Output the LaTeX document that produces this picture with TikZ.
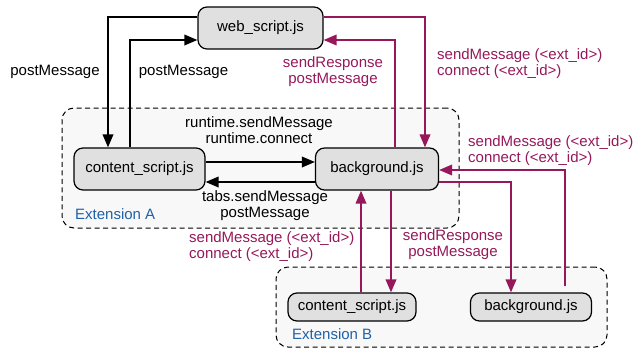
\documentclass[tikz,border=0pt]{standalone}
\usepackage{fontspec}
\setmainfont{Liberation Sans}
\usepackage{tikz}
\usetikzlibrary{arrows.meta}
\usetikzlibrary{positioning}
\usetikzlibrary{calc}

\definecolor{msgred}{HTML}{96185A}
\definecolor{extblue}{HTML}{1F62A8}
\definecolor{boxgray}{HTML}{E0E0E0}
\definecolor{extgray}{HTML}{F8F8F8}

\begin{document}
\begin{tikzpicture}[x=1pt, y=-1pt, on grid, >={Triangle[length=13pt,width=10.5pt]},
    font=\fontsize{15}{16}\selectfont,
    jsbox/.style={draw, line width=1.2pt, rounded corners=9pt, fill=boxgray, inner sep=0pt},
    bigbox/.style={jsbox, minimum height=42pt},
    smallbox/.style={jsbox, minimum height=28pt},
    extbox/.style={draw, dash pattern=on 5pt off 3.5pt, line width=1pt, rounded corners=12pt, fill=extgray, inner sep=0pt},
    blackmsg/.style={->, line width=2pt},
    redmsg/.style={->, line width=2pt, draw=msgred, color=msgred},
    redlabel/.style={text=msgred, align=left, inner sep=0pt},
    blacklabel/.style={align=center, inner sep=0pt}]
  \useasboundingbox (0,0) rectangle (634,351);

  % extension containers
  \node[extbox, minimum width=397pt, minimum height=120pt] (extA) at (260.5,168) {};
  \node[extbox, minimum width=331pt, minimum height=80pt]  (extB) at (441.5,307) {};
  \node[text=extblue, anchor=west, inner sep=0pt] (labA) at (75,214) {Extension A};
  \node[text=extblue, anchor=west, inner sep=0pt] (labB) at (292,334) {Extension B};

  % scripts
  \node[bigbox, minimum width=125pt] (web) at (260.5,28) {web\_script.js};
  \node[bigbox, minimum width=131pt] (contA) [below left=141pt and 121pt of web] {content\_script.js};
  \node[bigbox, minimum width=123pt] (bgA) [right=237.5pt of contA] {background.js};
  \node[smallbox, minimum width=128pt] (contB) [below left=138pt and 25pt of bgA] {content\_script.js};
  \node[smallbox, minimum width=121pt] (bgB) [right=179pt of contB] {background.js};

  % page <-> extension A
  \draw[blackmsg] ([yshift=11pt]web.west) -| ([xshift=-31.5pt]contA.north);
  \draw[blackmsg] ([xshift=-9.5pt]contA.north) |- ([yshift=-12pt]web.west);
  \draw[blackmsg] ([yshift=7pt]contA.east) -- ([yshift=7pt]bgA.west);
  \draw[blackmsg] ([yshift=-13pt]bgA.west) -- ([yshift=-13pt]contA.east);
  \draw[redmsg] ([yshift=11pt]web.east) -| ([xshift=48pt]bgA.north);
  \draw[redmsg] ([xshift=18pt]bgA.north) |- ([yshift=-12pt]web.east);

  % extension A <-> extension B
  \draw[redmsg, shorten <=6pt] ([xshift=34pt]bgB.north) |- ([yshift=-1pt]bgA.east);
  \draw[redmsg] ([yshift=-13pt]bgA.east) -| ([xshift=-20pt]bgB.north);
  \draw[redmsg] ([xshift=14pt]bgA.south) -- ([xshift=14pt]bgA.south |- contB.north);
  \draw[redmsg] ([xshift=9pt]contB.north) -- ([xshift=9pt]contB.north |- bgA.south);

  % labels
  \node[blacklabel] (pm1) at (55,72) {postMessage};
  \node[blacklabel] (pm2) at (183.5,72) {postMessage};
  \node[blacklabel] (rt) at (259,130) {runtime.sendMessage\\runtime.connect};
  \node[blacklabel] (tabs) at (265,206) {tabs.sendMessage\\postMessage};
  \node[redlabel, align=center] (resp1) at (333,72) {sendResponse\\postMessage};
  \node[redlabel, anchor=west] (ext1) at (437,64) {sendMessage (<ext\_id>)\\connect (<ext\_id>)};
  \node[redlabel, anchor=west] (ext2) at (468,151) {sendMessage (<ext\_id>)\\connect (<ext\_id>)};
  \node[redlabel, anchor=west] (ext3) at (189,247) {sendMessage (<ext\_id>)\\connect (<ext\_id>)};
  \node[redlabel, align=center] (resp2) at (453,245) {sendResponse\\postMessage};
\end{tikzpicture}
\end{document}
